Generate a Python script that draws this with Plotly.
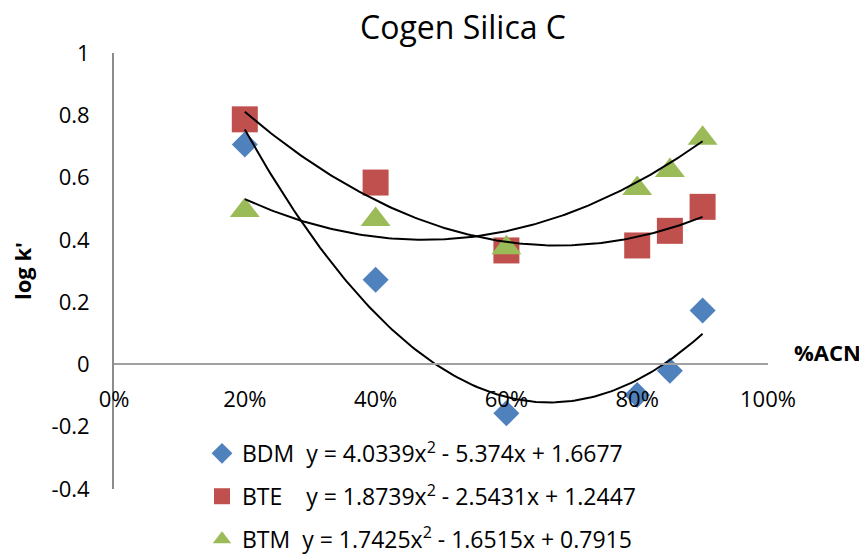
import numpy as np
import plotly.graph_objects as go

# ---- data ----
acn = [0.20, 0.40, 0.60, 0.80, 0.85, 0.90]
bdm = [0.706, 0.272, -0.157, -0.098, -0.020, 0.173]
bte = [0.787, 0.584, 0.366, 0.382, 0.429, 0.506]
btm = [0.494, 0.465, 0.375, 0.565, 0.623, 0.726]

series_names = ["BDM", "BTE", "BTM"]
equations = [
    "y = 4.0339x<sup>2</sup> - 5.374x + 1.6677",
    "y = 1.8739x<sup>2</sup> - 2.5431x + 1.2447",
    "y = 1.7425x<sup>2</sup> - 1.6515x + 0.7915",
]
coef_bdm = [4.0339, -5.374, 1.6677]
coef_bte = [1.8739, -2.5431, 1.2447]
coef_btm = [1.7425, -1.6515, 0.7915]

x_ticks = [0, 0.2, 0.4, 0.6, 0.8, 1.0]
x_tick_text = ["0%", "20%", "40%", "60%", "80%", "100%"]
y_ticks = [-0.4, -0.2, 0, 0.2, 0.4, 0.6, 0.8, 1.0]
y_tick_text = ["-0.4", "-0.2", "0", "0.2", "0.4", "0.6", "0.8", "1"]

FONT = "'Open Sans', Lato, sans-serif"
colors = ["#4F81BD", "#C0504D", "#9BBB59"]
symbols = ["diamond", "square", "triangle-up"]
sizes = [20, 26, 26]
values = [bdm, bte, btm]
coefs = [coef_bdm, coef_bte, coef_btm]
gaps = ["\u00a0\u00a0", "\u00a0\u00a0\u00a0\u00a0", "\u00a0\u00a0"]

# page body has an 8px margin: figure is drawn offset by 8px and sized to the window edge
W, H = 859, 547
L, R, T, B = 106, 99, 45, 66
PW = W - L - R

fig = go.Figure()

x_fit = np.linspace(min(acn), max(acn), 141)
for name, vals, col, sym, sz, eq, gp in zip(series_names, values, colors, symbols,
                                             sizes, equations, gaps):
    fig.add_trace(go.Scatter(
        x=acn, y=vals, mode="markers", name=name + gp + eq,
        legendgroup=name,
        marker=dict(symbol=sym, size=sz, color=col, line=dict(width=0)),
        cliponaxis=False,
    ))

for name, cf in zip(series_names, coefs):
    fig.add_trace(go.Scatter(
        x=x_fit, y=np.polyval(cf, x_fit), mode="lines", showlegend=False,
        line=dict(color="black", width=2), hoverinfo="skip",
    ))

fig.update_layout(
    width=W, height=H,
    margin=dict(l=L, r=R, t=T, b=B, autoexpand=False),
    plot_bgcolor="white", paper_bgcolor="white",
    font=dict(family=FONT, size=22, color="black"),
    title=dict(text="Cogen Silica C", x=455 / W, xref="container",
               y=1 - 20 / H, yref="container", yanchor="middle", xanchor="center",
               font=dict(size=32, family=FONT, color="black")),
    showlegend=True,
    legend=dict(x=(194 - L) / PW, y=0.131, xanchor="left", yanchor="top",
                bgcolor="rgba(0,0,0,0)", tracegroupgap=10,
                font=dict(size=23, family=FONT, color="black"),
                itemsizing="trace"),
    xaxis=dict(range=[0, 1], tickvals=x_ticks, ticktext=x_tick_text,
               showgrid=False, zeroline=False, showline=True,
               linecolor="#A0A0A0", linewidth=2, ticks="",
               anchor="free", position=0.4 / 1.4, ticklabelstandoff=15,
               tickfont=dict(size=22, family=FONT, color="black")),
    yaxis=dict(range=[-0.4, 1], tickvals=y_ticks, ticktext=y_tick_text,
               showgrid=False, zeroline=False, showline=True,
               linecolor="#8C8C8C", linewidth=2, ticks="",
               ticklabelstandoff=18,
               tickfont=dict(size=22, family=FONT, color="black")),
    annotations=[
        dict(text="<b>log k'</b>", textangle=-90, x=(14 - L) / PW, y=0.5,
             xref="paper", yref="paper", xanchor="center", yanchor="middle",
             showarrow=False, font=dict(size=22, family=FONT, color="black")),
        dict(text="<b>%ACN</b>", x=(855 - L) / PW, y=0.039, xref="paper", yref="y",
             xanchor="right", yanchor="middle",
             showarrow=False, font=dict(size=22, family=FONT, color="black")),
    ],
)

fig.write_html("out.html")
